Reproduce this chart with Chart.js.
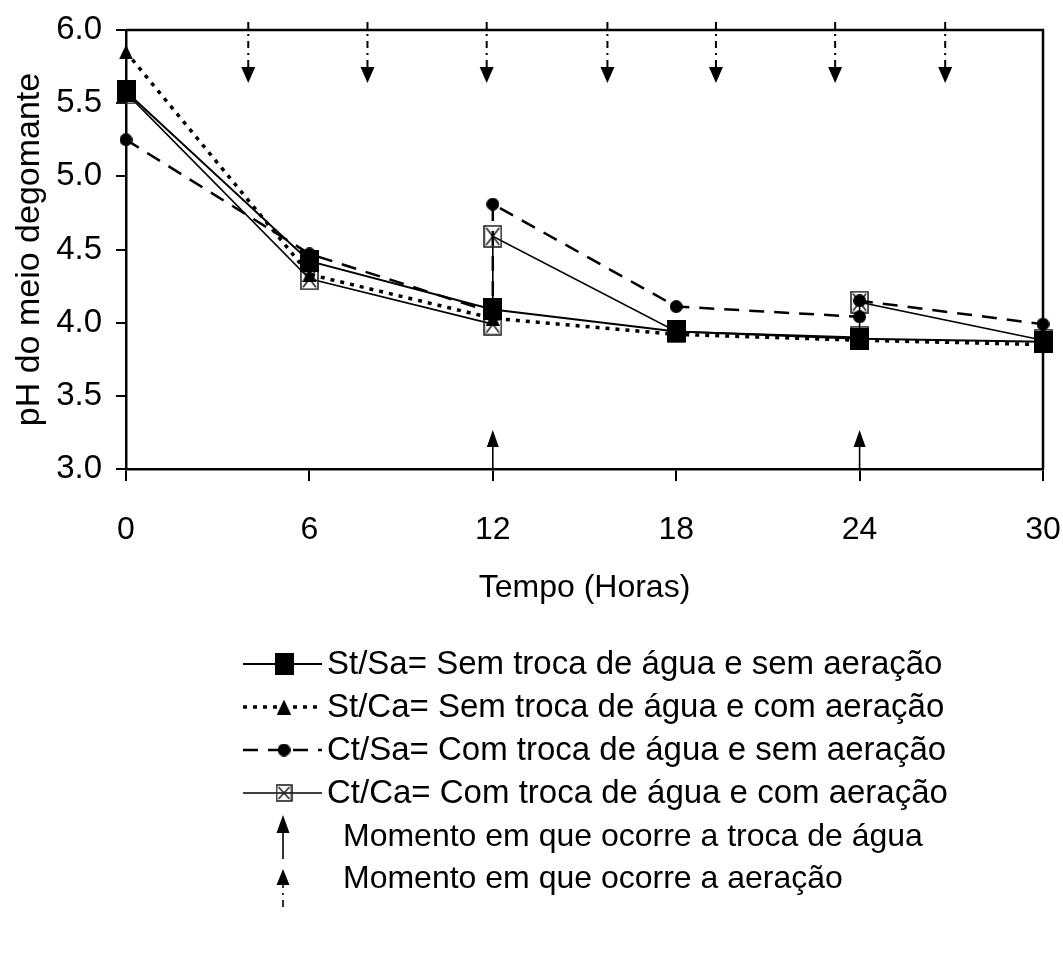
<!DOCTYPE html>
<html>
<head>
<meta charset="utf-8">
<script src="https://cdn.jsdelivr.net/npm/chart.js@4.4.1/dist/chart.umd.min.js"></script>
<style>
  html, body { margin: 0; padding: 0; background: #fff; }
  #wrap { width: 1063px; height: 955px; position: relative; }
</style>
</head>
<body>
<div id="wrap"><canvas id="chart"></canvas></div>
<script>
// Horas de coleta
const horas = [0, 6, 12, 18, 24, 30];
// Tratamentos com troca de água têm dois valores em 12 h e 24 h (antes/depois da troca)
const horasComTroca = [0, 6, 12, 12, 18, 24, 24, 30];

// pH do meio degomante
const stSa = [5.58, 4.42, 4.09, 3.94, 3.89, 3.87];
const stCa = [5.85, 4.33, 4.03, 3.92, 3.88, 3.85];
const ctSa = [5.25, 4.47, 4.07, 4.81, 4.11, 4.04, 4.15, 3.99];
const ctCa = [5.57, 4.30, 3.99, 4.59, 3.94, 3.90, 4.14, 3.88];

// Momentos marcados por setas
const horasAeracao = [4, 7.9, 11.8, 15.75, 19.3, 23.2, 26.8];
const horasTrocaAgua = [12, 24];

const xTicks = [0, 6, 12, 18, 24, 30];
const yTicks = [3.0, 3.5, 4.0, 4.5, 5.0, 5.5, 6.0];

const legendaSeries = [
  "St/Sa= Sem troca de água e sem aeração",
  "St/Ca= Sem troca de água e com aeração",
  "Ct/Sa= Com troca de água e sem aeração",
  "Ct/Ca= Com troca de água e com aeração"
];
const legendaTroca = "Momento em que ocorre a troca de água";
const legendaAeracao = "Momento em que ocorre a aeração";

const FONT = "'Liberation Sans', Arial, sans-serif";

// marker images
function makeMarker(w, h, draw) {
  const c = document.createElement("canvas");
  c.width = w;
  c.height = h;
  draw(c.getContext("2d"), w, h);
  return c;
}

const mkSquare = makeMarker(19, 22, (g, w, h) => {
  g.fillStyle = "#000";
  g.fillRect(0, 0, w, h);
});
const mkTriangle = makeMarker(14, 15, (g, w, h) => {
  g.fillStyle = "#000";
  g.beginPath();
  g.moveTo(w / 2, 0);
  g.lineTo(w, h);
  g.lineTo(0, h);
  g.closePath();
  g.fill();
});
const mkCircle = makeMarker(13, 13, (g, w, h) => {
  g.fillStyle = "#000";
  g.beginPath();
  g.arc(w / 2, h / 2, w / 2, 0, Math.PI * 2);
  g.fill();
});
function crossBox(w, h) {
  return makeMarker(w, h, (g) => {
    g.strokeStyle = "#222";
    g.lineWidth = 1.6;
    g.strokeRect(1, 1, w - 2, h - 2);
    g.beginPath();
    g.moveTo(3, 3);
    g.lineTo(w - 3, h - 3);
    g.moveTo(w - 3, 3);
    g.lineTo(3, h - 3);
    g.stroke();
  });
}
const mkCrossBox = crossBox(19, 23);
const mkCrossBoxSmall = crossBox(17, 18);

const toPoints = (xs, ys) => xs.map((x, i) => ({ x: x, y: ys[i] }));

const estilos = [
  { dash: [], width: 2, marker: mkSquare },
  { dash: [4, 6], width: 3.5, marker: mkTriangle },
  { dash: [15, 10], width: 2.5, marker: mkCircle },
  { dash: [], width: 1.6, marker: mkCrossBoxSmall }
];

function drawArrow(ctx, x, yTail, yTip, opts) {
  const headH = opts.headH, headW = opts.headW;
  const dir = yTip < yTail ? 1 : -1; // 1 = points up
  const yBase = yTip + dir * headH;
  ctx.save();
  ctx.strokeStyle = "#000";
  ctx.fillStyle = "#000";
  ctx.lineWidth = opts.lineWidth;
  ctx.setLineDash(opts.dash || []);
  ctx.beginPath();
  ctx.moveTo(x, yTail);
  ctx.lineTo(x, yBase);
  ctx.stroke();
  ctx.setLineDash([]);
  ctx.beginPath();
  ctx.moveTo(x, yTip);
  ctx.lineTo(x + headW / 2, yBase);
  ctx.lineTo(x - headW / 2, yBase);
  ctx.closePath();
  ctx.fill();
  ctx.restore();
}

const setasPlugin = {
  id: "setas",
  afterDatasetsDraw(chart) {
    const { ctx, chartArea, scales } = chart;
    // aeração: setas tracejadas descendo do topo
    horasAeracao.forEach(h => {
      const x = scales.x.getPixelForValue(h);
      drawArrow(ctx, x, chartArea.top - 8, chartArea.top + 53,
        { headH: 16, headW: 14, lineWidth: 2, dash: [7, 5, 2, 5] });
    });
    // troca de água: setas sólidas subindo do eixo x
    horasTrocaAgua.forEach(h => {
      const x = scales.x.getPixelForValue(h);
      drawArrow(ctx, x, chartArea.bottom, chartArea.bottom - 39,
        { headH: 17, headW: 12, lineWidth: 1.6 });
    });
    // moldura superior e direita
    ctx.save();
    ctx.strokeStyle = "#000";
    ctx.lineWidth = 2.5;
    ctx.beginPath();
    ctx.moveTo(chartArea.left, chartArea.top);
    ctx.lineTo(chartArea.right, chartArea.top);
    ctx.lineTo(chartArea.right, chartArea.bottom);
    ctx.stroke();
    ctx.restore();
  },
  afterDraw(chart) {
    const ctx = chart.ctx;
    const rows = [664, 707, 750, 793];
    ctx.save();
    ctx.font = "33px " + FONT;
    ctx.fillStyle = "#000";
    ctx.textBaseline = "middle";
    legendaSeries.forEach((txt, i) => {
      const y = rows[i];
      const st = estilos[i];
      ctx.save();
      ctx.strokeStyle = "#000";
      ctx.lineWidth = st.width;
      ctx.setLineDash(st.dash);
      ctx.beginPath();
      ctx.moveTo(243, y);
      ctx.lineTo(322, y);
      ctx.stroke();
      ctx.restore();
      const m = st.marker;
      ctx.drawImage(m, 284 - m.width / 2, y - m.height / 2);
      ctx.fillText(txt, 327, y + 1);
    });
    ctx.font = "32px " + FONT;
    const yTroca = 837;
    drawArrow(ctx, 283, yTroca + 22, yTroca - 22, { headH: 18, headW: 13, lineWidth: 1.6 });
    ctx.fillText(legendaTroca, 343, yTroca);
    const yAer = 879;
    drawArrow(ctx, 283, yAer + 28, yAer - 10, { headH: 16, headW: 13, lineWidth: 1.6, dash: [7, 5, 2, 5] });
    ctx.fillText(legendaAeracao, 343, yAer);
    ctx.restore();
  }
};

new Chart(document.getElementById("chart"), {
  type: "line",
  data: {
    datasets: [
      {
        label: "St/Sa",
        data: toPoints(horas, stSa),
        borderColor: "#000",
        borderWidth: 2,
        pointStyle: mkSquare,
        clip: false
      },
      {
        label: "St/Ca",
        data: toPoints(horas, stCa),
        borderColor: "#000",
        borderWidth: 3.5,
        borderDash: [4, 6],
        pointStyle: mkTriangle,
        clip: false
      },
      {
        label: "Ct/Sa",
        data: toPoints(horasComTroca, ctSa),
        borderColor: "#000",
        borderWidth: 2.5,
        borderDash: [15, 10],
        pointStyle: mkCircle,
        clip: false
      },
      {
        label: "Ct/Ca",
        data: toPoints(horasComTroca, ctCa),
        borderColor: "#000",
        borderWidth: 1.6,
        pointStyle: mkCrossBox,
        clip: false
      }
    ]
  },
  options: {
    responsive: true,
    maintainAspectRatio: false,
    animation: false,
    events: [],
    layout: { padding: { left: 0, top: 30, right: 20, bottom: 346 } },
    elements: { line: { tension: 0, fill: false } },
    plugins: {
      legend: { display: false },
      tooltip: { enabled: false }
    },
    scales: {
      x: {
        type: "linear",
        min: 0,
        max: 30,
        afterBuildTicks: s => { s.ticks = xTicks.map(v => ({ value: v })); },
        afterFit: s => {
          s.height = 140;
          s.paddingLeft = 0;
          s.paddingRight = 0;
        },
        ticks: {
          color: "#000",
          padding: 30,
          font: { family: FONT, size: 32 }
        },
        grid: {
          drawOnChartArea: false,
          drawTicks: true,
          tickLength: 12,
          color: "#000",
          lineWidth: 2
        },
        border: { display: true, color: "#000", width: 2.5 },
        title: {
          display: true,
          text: "Tempo (Horas)",
          color: "#000",
          padding: { top: 0, bottom: 2 },
          font: { family: FONT, size: 32 }
        }
      },
      y: {
        min: 3,
        max: 6,
        afterBuildTicks: s => { s.ticks = yTicks.map(v => ({ value: v })); },
        afterFit: s => {
          s.width = 126;
          s.paddingTop = 0;
          s.paddingBottom = 0;
        },
        ticks: {
          color: "#000",
          padding: 14,
          font: { family: FONT, size: 33 },
          callback: v => v.toFixed(1)
        },
        grid: {
          drawOnChartArea: false,
          drawTicks: true,
          tickLength: 10,
          color: "#000",
          lineWidth: 2
        },
        border: { display: true, color: "#000", width: 2.5 },
        title: {
          display: true,
          text: "pH do meio degomante",
          color: "#000",
          padding: { top: 9, bottom: 0 },
          font: { family: FONT, size: 34 }
        }
      }
    }
  },
  plugins: [setasPlugin]
});
</script>
</body>
</html>
